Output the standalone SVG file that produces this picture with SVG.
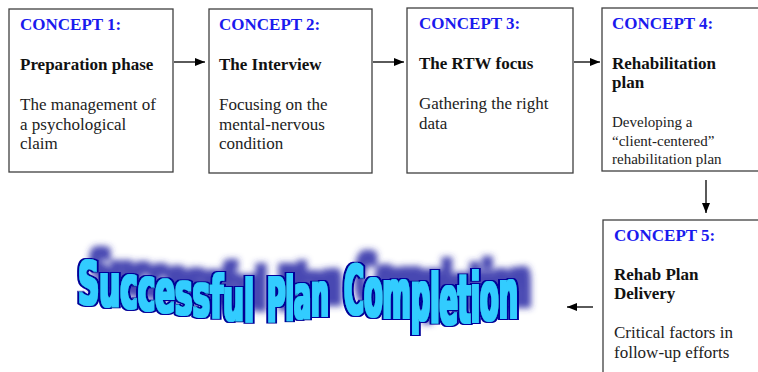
<svg xmlns="http://www.w3.org/2000/svg" width="758" height="372" viewBox="0 0 758 372">
  <style>
    .box { fill: #ffffff; stroke: #404040; stroke-width: 1.3; }
    .lbl { font-family: "Liberation Serif", "Times New Roman", serif; font-size: 17px; font-weight: bold; fill: #1a1aee; }
    .ttl { font-family: "Liberation Serif", "Times New Roman", serif; font-size: 17px; font-weight: bold; fill: #111111; }
    .body { font-family: "Liberation Serif", "Times New Roman", serif; font-size: 17px; fill: #222222; }
    .small { font-size: 15px; }
    .link { stroke: #000000; stroke-width: 1.3; fill: none; marker-end: url(#head); }
    .wa { font-family: "DejaVu Sans Condensed", "DejaVu Sans", "Liberation Sans", sans-serif; font-weight: bold; fill: #33ccff; }
  </style>
  <defs>
    <marker id="head" viewBox="0 0 10 8" refX="10" refY="4" markerWidth="10" markerHeight="8" markerUnits="userSpaceOnUse" orient="auto">
      <path d="M0,0 L10,4 L0,8 Z" fill="#000000"/>
    </marker>
    <!-- heavy cyan letters with navy outline and a soft raised shadow -->
    <filter id="wordart" x="-10%" y="-60%" width="125%" height="200%">
      <feMorphology in="SourceAlpha" operator="dilate" radius="1.4 0.7" result="inner"/>
      <feMorphology in="SourceAlpha" operator="dilate" radius="2.8 2.0" result="outer"/>
      <feFlood flood-color="#33ccff"/>
      <feComposite in2="inner" operator="in" result="cyan"/>
      <feFlood flood-color="#000099"/>
      <feComposite in2="outer" operator="in" result="navy"/>
      <feGaussianBlur in="outer" stdDeviation="3.2"/>
      <feOffset dx="12" dy="-12" result="blur"/>
      <feFlood flood-color="#3434aa" flood-opacity="0.9"/>
      <feComposite in2="blur" operator="in" result="shadow"/>
      <feMerge>
        <feMergeNode in="shadow"/>
        <feMergeNode in="navy"/>
        <feMergeNode in="cyan"/>
      </feMerge>
    </filter>
  </defs>

  <!-- concept boxes -->
  <g id="concept1">
    <rect class="box" x="9" y="9" width="164" height="163"/>
    <text class="lbl" x="20" y="30">CONCEPT 1:</text>
    <text class="ttl" x="20" y="70">Preparation phase</text>
    <text class="body" x="20" y="110">The management of</text>
    <text class="body" x="20" y="130">a psychological</text>
    <text class="body" x="20" y="149">claim</text>
  </g>

  <g id="concept2">
    <rect class="box" x="209" y="9" width="163" height="164"/>
    <text class="lbl" x="219" y="30">CONCEPT 2:</text>
    <text class="ttl" x="219" y="70">The Interview</text>
    <text class="body" x="219" y="110">Focusing on the</text>
    <text class="body" x="219" y="130">mental-nervous</text>
    <text class="body" x="219" y="149">condition</text>
  </g>

  <g id="concept3">
    <rect class="box" x="407" y="8" width="166" height="165"/>
    <text class="lbl" x="419" y="29">CONCEPT 3:</text>
    <text class="ttl" x="419" y="69">The RTW focus</text>
    <text class="body" x="419" y="109">Gathering the right</text>
    <text class="body" x="419" y="129">data</text>
  </g>

  <g id="concept4">
    <rect class="box" x="602" y="8" width="170" height="163"/>
    <text class="lbl" x="612" y="29">CONCEPT 4:</text>
    <text class="ttl" x="612" y="69">Rehabilitation</text>
    <text class="ttl" x="612" y="88">plan</text>
    <text class="body small" x="612" y="127">Developing a</text>
    <text class="body small" x="612" y="146">“client-centered”</text>
    <text class="body small" x="612" y="164">rehabilitation plan</text>
  </g>

  <g id="concept5">
    <rect class="box" x="603" y="220" width="170" height="170"/>
    <text class="lbl" x="614" y="241">CONCEPT 5:</text>
    <text class="ttl" x="614" y="280">Rehab Plan</text>
    <text class="ttl" x="614" y="299">Delivery</text>
    <text class="body" x="614" y="338">Critical factors in</text>
    <text class="body" x="614" y="358">follow-up efforts</text>
  </g>

  <!-- connectors -->
  <g id="connectors">
    <line class="link" x1="174" y1="62" x2="205" y2="62"/>
    <line class="link" x1="373" y1="62" x2="404" y2="62"/>
    <line class="link" x1="574" y1="62" x2="600" y2="62"/>
    <line class="link" x1="706" y1="180" x2="706" y2="213"/>
    <line class="link" x1="593" y1="307" x2="567" y2="307"/>
  </g>

  <!-- wavy banner title -->
  <g id="banner" filter="url(#wordart)">
    <text class="wa" x="78" y="304" font-size="58" dy="0 2 2 2 2 2 2 2 2 2" textLength="176" lengthAdjust="spacingAndGlyphs">Successful</text>
    <text class="wa" x="267" y="321" font-size="61" dy="0 -1 -2 -2" textLength="62" lengthAdjust="spacingAndGlyphs">Plan</text>
    <text class="wa" x="344" y="314" font-size="68" dy="0 2 2 2 3 1 -1 -1 -2 -2" textLength="174" lengthAdjust="spacingAndGlyphs">Completion</text>
  </g>
</svg>
